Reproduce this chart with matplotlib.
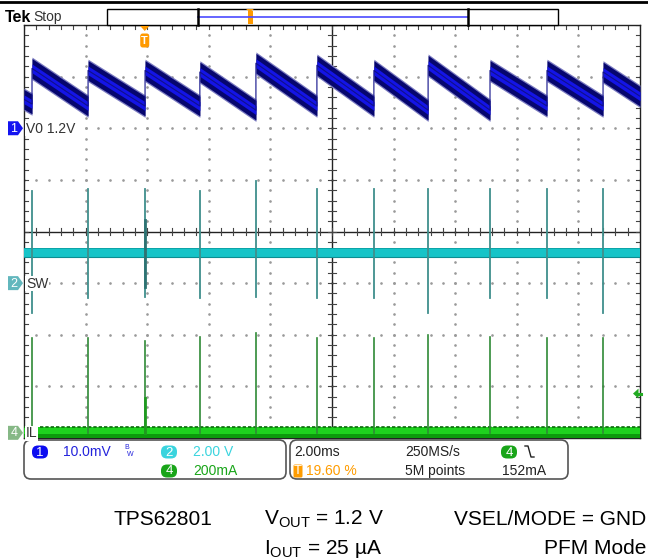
import matplotlib
matplotlib.use("Agg")
import matplotlib.pyplot as plt
from matplotlib.patches import FancyBboxPatch, Polygon, Rectangle
import numpy as np

# ---------------- data ----------------
# switching events, ms from left edge of the 20 ms record (2 ms/div)
pulse_t = [0.26, 2.08, 3.93, 5.71, 7.53, 9.51, 11.36, 13.12, 15.13, 16.98, 18.80]
record_ms = 20.0
trig_pct = 19.60

# CH1: VOUT ripple around the 1.2 V offset, mV
vout_left = 5.6          # level at left edge
vout_pre_first = 4.7     # level just before the first pulse
vout_peak = [11.6, 11.2, 11.2, 10.9, 12.6, 12.2, 11.2, 12.2, 11.2, 11.2, 10.9]
vout_valley = [4.3, 4.3, 4.3, 3.5, 4.3, 4.3, 3.5, 3.5, 4.3, 4.3, 6.2]
vout_noise = 1.9         # half width of noise band, mV

# CH2: SW node, V
sw_idle = 1.2
sw_high = [3.57, 3.64, 3.64, 3.57, 3.95, 3.64, 3.64, 3.64, 3.64, 3.64, 3.64]
sw_low = [-1.16, -0.58, -0.54, -0.58, -0.54, -0.58, -0.58, -1.16, -0.58, -0.58, -1.16]
sw_trig_span = (-0.16, 2.44)

# CH4: inductor current, mA
il_peak = [368, 368, 357, 372, 388, 368, 368, 380, 372, 368, 368]
il_trig_span = (0, 136)
il_trig_level = 152

# channel settings: (scale per div, ground position in div from bottom)
ch1_scale, ch1_gnd = 10.0, 6.0
ch2_scale, ch2_gnd = 2.0, 3.0
ch4_scale, ch4_gnd = 200.0, 0.1

NARROW = ["Liberation Sans Narrow", "Liberation Sans"]
plt.rcParams["mathtext.fontset"] = "custom"
plt.rcParams["mathtext.rm"] = "Liberation Sans"
plt.rcParams["mathtext.it"] = "Liberation Sans"

W, H = 648, 559
fig = plt.figure(figsize=(W / 100, H / 100), dpi=100)
fig.patch.set_facecolor("white")

GL, GR, GT, GB = 24, 640, 25, 438   # graticule edges in pixels
ax = fig.add_axes([GL / W, 1 - GB / H, (GR - GL) / W, (GB - GT) / H])
ax.set_xlim(0, record_ms)
ax.set_ylim(0, 8)
ax.set_xticks([])
ax.set_yticks([])
for s in ax.spines.values():
    s.set_color("#222222")
    s.set_linewidth(1.0)

xdiv = record_ms / 10.0
# dotted graticule
dot_kw = dict(linestyle="", marker="o", markersize=0.9, color="#9a9a9a", zorder=1)
for i in range(1, 10):
    if i == 5:
        continue
    yy = np.arange(0, 8.001, 0.2)
    ax.plot(np.full_like(yy, i * xdiv), yy, **dot_kw)
for j in range(1, 8):
    if j == 4:
        continue
    xx = np.arange(0, record_ms + 0.001, 0.2 * xdiv)
    ax.plot(xx, np.full_like(xx, j), **dot_kw)
# centre cross with minor ticks
ax.axvline(5 * xdiv, color="#222222", lw=1.0, zorder=1)
ax.axhline(4, color="#222222", lw=1.0, zorder=1)
tk = dict(color="#444444", lw=0.8, zorder=1)
for x in np.arange(0, record_ms + 0.001, 0.2 * xdiv):
    ax.plot([x, x], [4 - 0.06, 4 + 0.06], **tk)
    ax.plot([x, x], [8, 8 - 0.07], **tk)
    ax.plot([x, x], [0, 0.07], **tk)
for y in np.arange(0, 8.001, 0.2):
    ax.plot([5 * xdiv - 0.12, 5 * xdiv + 0.12], [y, y], **tk)
    ax.plot([0, 0.14], [y, y], **tk)
    ax.plot([record_ms, record_ms - 0.14], [y, y], **tk)

# ---------------- CH1 ripple ----------------
t1 = [0.0, pulse_t[0]]
v1 = [vout_left, vout_pre_first]
for i, tp in enumerate(pulse_t):
    t_next = pulse_t[i + 1] if i + 1 < len(pulse_t) else record_ms
    t1 += [tp, t_next]
    v1 += [vout_peak[i], vout_valley[i]]
t1 = np.array(t1)
v1 = np.array(v1)
y1 = ch1_gnd + v1 / ch1_scale
n1 = vout_noise / ch1_scale
ax.fill_between(t1, y1 - 1.15 * n1, y1 + 1.15 * n1, color="#7a7ac0", lw=0, zorder=3)
ax.fill_between(t1, y1 - n1, y1 + n1, color="#06066e", lw=0, zorder=3)
ax.fill_between(t1, y1 - 0.45 * n1, y1 + 0.45 * n1, color="#1414e6", lw=0, zorder=3)
ax.plot(t1, y1, color="#10108a", lw=0.8, zorder=3)

# ---------------- CH2 SW ----------------
for i, tp in enumerate(pulse_t):
    ax.plot([tp, tp], [ch2_gnd + sw_low[i] / ch2_scale, ch2_gnd + sw_high[i] / ch2_scale],
            color="#3f8f8c", lw=1.3, zorder=4)
sw_y = ch2_gnd + sw_idle / ch2_scale
ax.fill_between([0, record_ms], sw_y - 0.085, sw_y + 0.085, color="#16c4c8", lw=0, zorder=3)
ax.plot([0, record_ms], [sw_y - 0.085] * 2, color="#0c8e92", lw=0.8, zorder=3)
ax.plot([0, record_ms], [sw_y + 0.085] * 2, color="#0c9ea2", lw=0.6, zorder=3)

# trigger-time pulse (denser acquisition)
tidx = int(np.argmin(np.abs(np.array(pulse_t) - trig_pct / 100 * record_ms)))
ax.plot([pulse_t[tidx]] * 2, [ch2_gnd + sw_trig_span[0] / ch2_scale, ch2_gnd + sw_trig_span[1] / ch2_scale],
        color="#2d7272", lw=2.0, zorder=4)

# ---------------- CH4 IL ----------------
for i, tp in enumerate(pulse_t):
    ax.plot([tp, tp], [ch4_gnd, ch4_gnd + il_peak[i] / ch4_scale], color="#2f8a36", lw=1.2, zorder=4)
ax.plot([pulse_t[tidx]] * 2, [ch4_gnd + il_trig_span[0] / ch4_scale, ch4_gnd + il_trig_span[1] / ch4_scale],
        color="#1f9a1f", lw=2.0, zorder=4)
ax.fill_between([0, record_ms], ch4_gnd - 0.02, ch4_gnd + 0.11, color="#1ed21e", lw=0, zorder=3)
ax.fill_between([0, record_ms], ch4_gnd - 0.1, ch4_gnd - 0.02, color="#0c9a0c", lw=0, zorder=3)
ax.plot([0, record_ms], [ch4_gnd + 0.11] * 2, color="#0b6a0b", lw=1.2,
        linestyle=(0, (2.0, 1.2)), zorder=3)

# ---------------- overlay in pixel coords ----------------
ov = fig.add_axes([0, 0, 1, 1], zorder=5)
ov.set_xlim(0, W)
ov.set_ylim(H, 0)
ov.axis("off")


def div_to_px(d):
    return GB - d * (GB - GT) / 8.0


def ms_to_px(t):
    return GL + t / record_ms * (GR - GL)


ov.plot([0, W], [2, 2], color="black", lw=2.0)
ov.text(5, 17, "Tek", fontsize=11.5, fontweight="bold", family=NARROW, va="center", ha="left")
ov.text(33, 17.5, "Stop", fontsize=10, color="#333333", family=NARROW, va="center", ha="left")

# record view bar
ov.add_patch(Rectangle((107, 9), 451, 16, facecolor="white", edgecolor="black", lw=1.0))
ov.plot([198, 468], [16.5, 16.5], color="#4a4aff", lw=1.2)
for xb in (197.5, 468):
    ov.plot([xb, xb], [9, 25], color="black", lw=1.8)
ov.add_patch(Rectangle((247.5, 11), 5, 13, facecolor="#ff9a00", edgecolor="none"))
ov.add_patch(Polygon([(246, 9), (254, 9), (250, 12)], closed=True, facecolor="#ff9a00", edgecolor="none"))

# trigger position marker
tx = ms_to_px(trig_pct / 100 * record_ms)
ov.add_patch(Polygon([(tx - 4.5, 26), (tx + 4.5, 26), (tx, 31)], closed=True, facecolor="#ff9a00", edgecolor="none"))
ov.add_patch(FancyBboxPatch((tx - 4.5, 33.5), 9, 14, boxstyle="round,pad=0,rounding_size=2.5",
                            facecolor="#ff9a00", edgecolor="none"))
ov.text(tx, 41, "T", fontsize=8, fontweight="bold", color="white", ha="center", va="center", family=NARROW)

# trigger level arrow
ty = div_to_px(ch4_gnd + il_trig_level / ch4_scale)
ov.add_patch(Polygon([(633, ty), (638.5, ty - 5), (638.5, ty + 5)], closed=True, facecolor="#22aa22", edgecolor="none"))
ov.plot([637, 641], [ty, ty], color="#22aa22", lw=2.2)


def ch_marker(y, num, color, label):
    ov.add_patch(Polygon([(8, y - 7), (18, y - 7), (23, y), (18, y + 7), (8, y + 7)], closed=True,
                         facecolor=color, edgecolor="none"))
    ov.text(14, y + 0.5, num, fontsize=9, color="white", ha="center", va="center", family=NARROW)
    ov.text(26, y + 0.5, label, fontsize=10, color="#333333", ha="left", va="center", family=NARROW,
            bbox=dict(boxstyle="square,pad=0.05", facecolor="white", edgecolor="none"))


ch_marker(div_to_px(ch1_gnd), "1", "#1414f0", "V0 1.2V")
ch_marker(div_to_px(ch2_gnd), "2", "#62b7bd", "SW")
ch_marker(div_to_px(ch4_gnd), "4", "#86b886", "IL")

# readout panels
for x0, w in ((24, 262), (290, 278)):
    ov.add_patch(FancyBboxPatch((x0, 440), w, 39, boxstyle="round,pad=0,rounding_size=7",
                                facecolor="white", edgecolor="#555555", lw=1.2, zorder=1))


def badge(cx, cy, txt, color, w=16, h=13, r=6):
    ov.add_patch(FancyBboxPatch((cx - w / 2, cy - h / 2), w, h, boxstyle=f"round,pad=0,rounding_size={r}",
                                facecolor=color, edgecolor="none", zorder=2))
    ov.text(cx, cy + 0.5, txt, fontsize=9.5, color="white", ha="center", va="center", family=NARROW, zorder=3)


C1, C2, C4, CT = "#2424dc", "#3ad4de", "#19a519", "#ff9c00"
FS = 10
r1, r2 = 452, 471
badge(40, r1, "1", "#0c0cf0")
ov.text(63, r1, "10.0mV", fontsize=FS, color=C1, va="center", family=NARROW)
ov.text(124, r1 - 4.5, "B", fontsize=5, color=C1, va="center", family=NARROW)
ov.text(127, r1 + 3, "W", fontsize=5, color=C1, va="center", family=NARROW)
badge(169, r1, "2", C2)
ov.text(193, r1, "2.00 V", fontsize=FS, color=C2, va="center", family=NARROW)
badge(169, r2, "4", C4)
ov.text(193, r2, "200mA", fontsize=FS, color=C4, va="center", family=NARROW)

ov.text(294, r1, "2.00ms", fontsize=FS, color="#222222", va="center", family=NARROW)
badge(298, r2, "T", CT, w=9, h=13, r=1.5)
ov.text(306, r2, "19.60 %", fontsize=FS, color=CT, va="center", family=NARROW)
ov.text(405, r1, "250MS/s", fontsize=FS, color="#222222", va="center", family=NARROW)
ov.text(405, r2, "5M points", fontsize=FS, color="#222222", va="center", family=NARROW)
badge(509, r1, "4", C4)
ov.plot([525, 528, 531, 534], [446, 446, 457, 457], color="#222222", lw=1.0)
ov.text(502, r2, "152mA", fontsize=FS, color="#222222", va="center", family=NARROW)

# caption
cap = dict(fontsize=15, color="black", family="Liberation Sans", va="baseline")
ov.text(114, 525, "TPS62801", ha="left", **cap)
ov.text(264, 525, r"V$_{\mathrm{OUT}}$ = 1.2 V", ha="left", **cap)
ov.text(646, 525, "VSEL/MODE = GND", ha="right", **cap)
ov.text(264, 554, "I$_{\\mathrm{OUT}}$ = 25 µA", ha="left", **cap)
ov.text(646, 554, "PFM Mode", ha="right", **cap)

fig.savefig("out.png", dpi=100, facecolor="white")
